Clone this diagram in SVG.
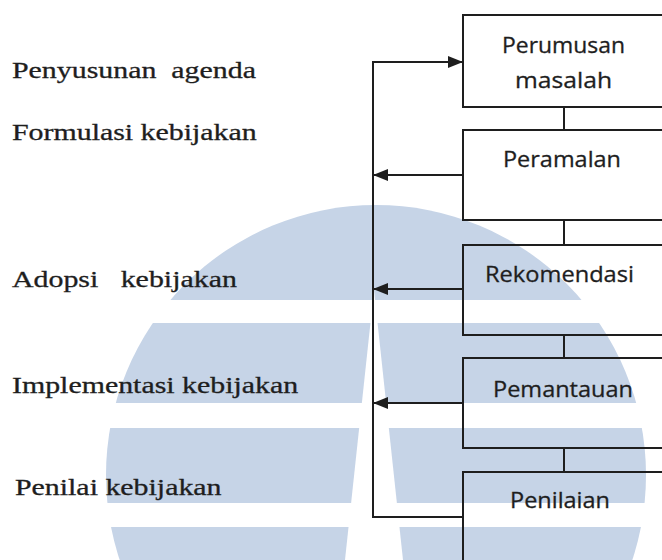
<svg xmlns="http://www.w3.org/2000/svg" width="662" height="560" viewBox="0 0 662 560">
  <style>
    .box { fill: none; stroke: #1e1e1e; stroke-width: 2; }
    .ln { fill: none; stroke: #1e1e1e; stroke-width: 2; }
    .bt { font-family: "Open Sans", "Noto Sans", sans-serif; font-size: 22px; fill: #1e1e1e; stroke: #1e1e1e; stroke-width: 0.3; }
    .lt { font-family: "Liberation Serif", "Times New Roman", serif; font-size: 23px; fill: #1e1e1e; stroke: #1e1e1e; stroke-width: 0.3; white-space: pre; }
  </style>
  <defs>
    <marker id="arr" markerUnits="userSpaceOnUse" markerWidth="15" markerHeight="12" refX="15" refY="6" orient="auto">
      <path d="M0,0 L15,6 L0,12 z" fill="#1e1e1e"/>
    </marker>
    <mask id="wm">
      <rect x="0" y="0" width="662" height="560" fill="#fff"/>
      <rect x="0" y="300" width="662" height="23" fill="#000"/>
      <rect x="0" y="403" width="662" height="25" fill="#000"/>
      <rect x="0" y="503" width="662" height="24" fill="#000"/>
      <polygon points="374,290 403,560 345,560" fill="#000"/>
    </mask>
  </defs>
  <rect x="0" y="0" width="662" height="560" fill="#ffffff"/>
  <g id="watermark">
    <circle cx="376" cy="475" r="270" fill="#c6d4e7" mask="url(#wm)"/>
  </g>

  <g id="labels" transform="scale(1.3,1)">
    <text class="lt" x="9.2" y="78">Penyusunan  agenda</text>
    <text class="lt" x="9.2" y="140">Formulasi kebijakan</text>
    <text class="lt" x="9.2" y="287">Adopsi   kebijakan</text>
    <text class="lt" x="9.2" y="393">Implementasi kebijakan</text>
    <text class="lt" x="11.5" y="495">Penilai kebijakan</text>
  </g>

  <g id="n1">
    <rect class="box" x="463" y="15" width="202" height="92"/>
    <text class="bt" x="502" y="53" textLength="123" lengthAdjust="spacingAndGlyphs">Perumusan</text>
    <text class="bt" x="515" y="88" textLength="97" lengthAdjust="spacingAndGlyphs">masalah</text>
  </g>
  <g id="n2">
    <rect class="box" x="463" y="130" width="202" height="90"/>
    <text class="bt" x="503" y="167" textLength="118" lengthAdjust="spacingAndGlyphs">Peramalan</text>
  </g>
  <g id="n3">
    <rect class="box" x="463" y="245" width="202" height="90"/>
    <text class="bt" x="485" y="282" textLength="149" lengthAdjust="spacingAndGlyphs">Rekomendasi</text>
  </g>
  <g id="n4">
    <rect class="box" x="463" y="358" width="202" height="90"/>
    <text class="bt" x="493" y="397" textLength="140" lengthAdjust="spacingAndGlyphs">Pemantauan</text>
  </g>
  <g id="n5">
    <rect class="box" x="463" y="472" width="202" height="100"/>
    <text class="bt" x="510" y="508" textLength="100" lengthAdjust="spacingAndGlyphs">Penilaian</text>
  </g>

  <g id="connectors">
    <line class="ln" x1="564" y1="107" x2="564" y2="130"/>
    <line class="ln" x1="564" y1="220" x2="564" y2="245"/>
    <line class="ln" x1="564" y1="335" x2="564" y2="358"/>
    <line class="ln" x1="564" y1="448" x2="564" y2="472"/>
    <line class="ln" x1="463" y1="175" x2="373" y2="175" marker-end="url(#arr)"/>
    <line class="ln" x1="463" y1="289" x2="373" y2="289" marker-end="url(#arr)"/>
    <line class="ln" x1="463" y1="403" x2="373" y2="403" marker-end="url(#arr)"/>
    <polyline class="ln" points="463,517 373,517 373,62 463,62" marker-end="url(#arr)"/>
  </g>
</svg>
